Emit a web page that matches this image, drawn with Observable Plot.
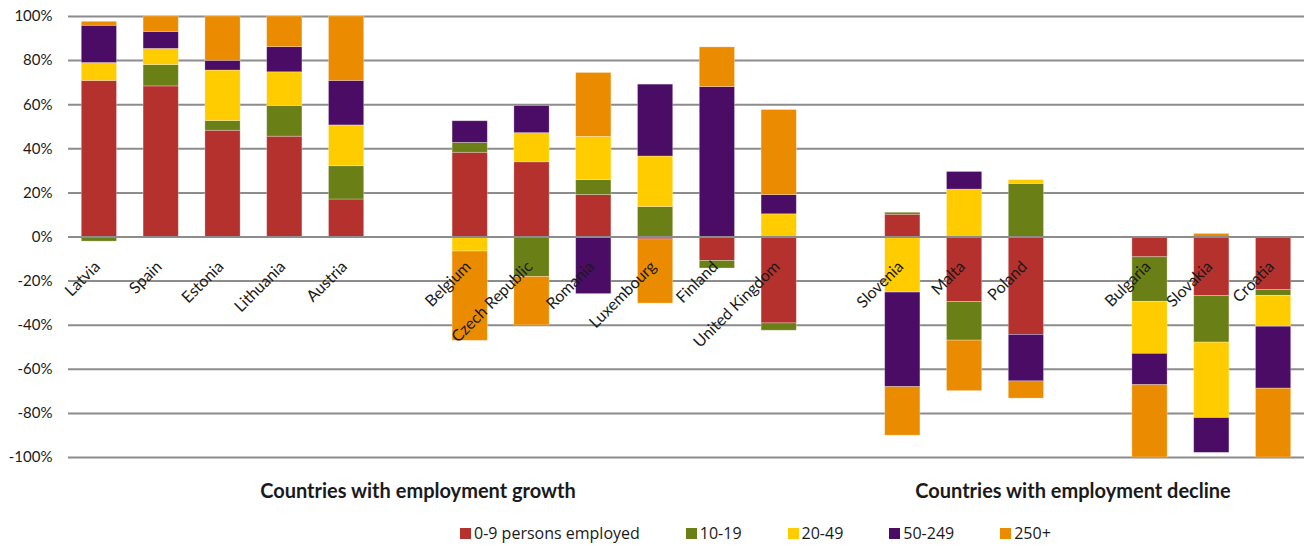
<!DOCTYPE html>
<html>
<head>
<meta charset="utf-8">
<script src="https://cdn.jsdelivr.net/npm/d3@7"></script>
<script src="https://cdn.jsdelivr.net/npm/@observablehq/plot@0.6"></script>
<style>
  html, body { margin: 0; padding: 0; background: #fff; }
  #wrap { position: relative; width: 1306px; height: 546px; font-family: Lato, "Open Sans", sans-serif; color: #1a1a1a; }
  .grp { position: absolute; top: 478px; font-weight: bold; font-size: 20px; transform: translateX(-50%); white-space: nowrap; }
  #legend { position: absolute; left: 460px; top: 522px; }
  #legend .lg-swatches-wrap { min-height: 22px; margin: 0; }
  #legend .lg-swatches-wrap .lg-swatch { margin-right: 46px; }
  #legend .lg-swatches-wrap .lg-swatch:first-child { margin-right: 42px; }
  #legend .lg-swatch > svg { margin-right: 3px; }
</style>
</head>
<body>
<div id="wrap">
  <div id="chart"></div>
  <div class="grp" style="left:418px">Countries with employment growth</div>
  <div class="grp" style="left:1073px">Countries with employment decline</div>
  <div id="legend"></div>
</div>
<script>
// Country groups (left to right), separated by gaps on the chart
const growthA = ["Latvia", "Spain", "Estonia", "Lithuania", "Austria"];
const growthB = ["Belgium", "Czech Republic", "Romania", "Luxembourg", "Finland", "United Kingdom"];
const declineA = ["Slovenia", "Malta", "Poland"];
const declineB = ["Bulgaria", "Slovakia", "Croatia"];
const countries = [...growthA, ...growthB, ...declineA, ...declineB];

// Size classes
const sizeClasses = ["0-9 persons employed", "10-19", "20-49", "50-249", "250+"];
const colors = ["#B5312D", "#6B7F17", "#FFCC00", "#4B0C66", "#EB8B00"];

// Contribution (%) of each size class, in the order of `countries`
const s0_9 =    [70.8, 68.3, 48.2, 45.5, 17.0, 38.2, 33.9, 19.0, -1.1, -10.9, -39.2, 10.1, -29.5, -44.4, -9.2, -26.8, -24.1];
const s10_19 =  [-2.1,  9.7,  4.4, 13.9, 15.1,  4.5, -18.1, 6.8, 13.6, -3.4,  -3.3,  0.9, -17.5, 24.1, -20.2, -21.1, -2.6];
const s20_49 =  [ 8.1,  7.3, 22.9, 15.3, 18.5, -6.6, 13.2, 19.6, 22.9,  0.0,  10.3, -25.2, 21.5,  1.7, -23.6, -34.2, -14.0];
const s50_249 = [16.9,  7.7,  4.4, 11.4, 20.2,  9.8, 12.3, -25.9, 32.6, 68.0,  8.7, -42.9,  8.0, -21.1, -14.2, -15.8, -28.1];
const s250 =    [ 1.8,  7.0, 20.1, 13.9, 29.2, -40.5, -22.0, 29.0, -29.1, 18.0, 38.6, -22.0, -22.9, -7.8, -32.8,  1.4, -31.2];

const yTicks = [-100, -80, -60, -40, -20, 0, 20, 40, 60, 80, 100];

const series = [s0_9, s10_19, s20_49, s50_249, s250];
const data = countries.flatMap((c, i) => series.map((s, k) => ({country: c, size: sizeClasses[k], value: s[i]})));

// x domain with empty slots between the groups
const xDomain = [...growthA, " ", ...growthB, "  ", ...declineA, "   ", ...declineB];

const chart = Plot.plot({
  width: 1306,
  height: 470,
  marginLeft: 68,
  marginRight: 2,
  marginTop: 16,
  marginBottom: 13,
  style: {fontFamily: "Lato, 'Open Sans', sans-serif", fontSize: "15px", color: "#1a1a1a", background: "#fff"},
  x: {domain: xDomain, paddingInner: 0.43, paddingOuter: 0.215, round: false, axis: null},
  y: {domain: [-100, 100], axis: null},
  color: {domain: sizeClasses, range: colors},
  marks: [
    Plot.ruleY(yTicks.filter(d => d !== 0), {stroke: "#8c8c8c", strokeWidth: 2}),
    Plot.barY(data, {x: "country", y: "value", fill: "size", stroke: "#fff", strokeOpacity: 0.35, strokeWidth: 0.8}),
    Plot.ruleY([0], {stroke: "#8c8c8c", strokeWidth: 2}),
    Plot.axisY({ticks: yTicks, tickFormat: d => d + "%", tickSize: 0, tickPadding: 16, fontSize: 15, fill: "#1a1a1a", label: null}),
    Plot.text(countries, {x: d => d, y: () => 0, text: d => d, rotate: -45, textAnchor: "end", dy: 27, dx: -2, fontSize: 16, fill: "#1a1a1a"})
  ]
});
document.getElementById("chart").appendChild(chart);

const legend = Plot.legend({
  color: {domain: sizeClasses, range: colors},
  swatchSize: 11,
  className: "lg",
  style: {fontFamily: "'Open Sans', Lato, sans-serif", fontSize: "16px", color: "#1a1a1a"}
});
document.getElementById("legend").appendChild(legend);
</script>
</body>
</html>
